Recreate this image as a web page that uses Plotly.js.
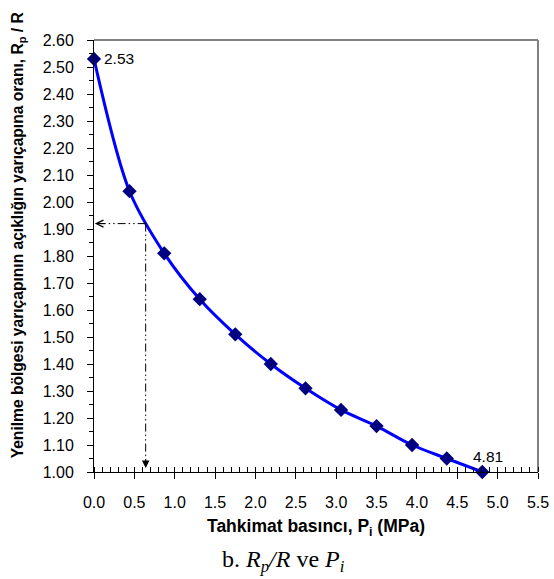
<!DOCTYPE html>
<html>
<head>
<meta charset="utf-8">
<script src="https://cdn.plot.ly/plotly-3.0.1.min.js"></script>
<style>html,body{margin:0;padding:0;background:#fff;}#chart{width:554px;height:579px;}</style>
</head>
<body>
<div id="chart"></div>
<script>
// Support pressure Pi (MPa)
const pressure = [0.00, 0.44, 0.87, 1.31, 1.75, 2.19, 2.62, 3.06, 3.50, 3.94, 4.37, 4.81];
// Rp / R ratio
const ratio = [2.53, 2.04, 1.81, 1.64, 1.51, 1.40, 1.31, 1.23, 1.17, 1.10, 1.05, 1.00];
// Labelled points
const firstLabel = "2.53";
const lastLabel = "4.81";
// Guide (read-off) point
const guideX = [0.64];
const guideY = [1.92];
const yMin = 1.00, yMax = 2.60, xMin = 0.0, xMax = 5.5;

const FONT = "Liberation Sans, Arial, sans-serif";
const dashPat = "8px,3px,1.5px,3px,1.5px,3px";

const traces = [
  {
    x: pressure, y: ratio, type: "scatter", mode: "lines",
    line: {color: "#0000FF", width: 3, shape: "spline", smoothing: 0.9},
    hoverinfo: "skip", showlegend: false
  },
  {
    x: [guideX[0], xMin + 0.03], y: [guideY[0], guideY[0]], type: "scatter", mode: "lines",
    line: {color: "#000000", width: 1, dash: dashPat}, showlegend: false
  },
  {
    x: [guideX[0], guideX[0]], y: [guideY[0], yMin + 0.02], type: "scatter", mode: "lines",
    line: {color: "#000000", width: 1, dash: dashPat}, showlegend: false
  },
  {
    x: pressure, y: ratio, type: "scatter", mode: "markers",
    marker: {symbol: "diamond", size: 11, color: "#000080", line: {width: 0}},
    showlegend: false, cliponaxis: false
  }
];

const layout = {
  width: 554, height: 579,
  margin: {l: 94, r: 16, t: 40, b: 107},
  paper_bgcolor: "#fff", plot_bgcolor: "#fff",
  font: {family: FONT, color: "#000"},
  xaxis: {
    range: [xMin, xMax], dtick: 0.5, tick0: 0, tickformat: ".1f",
    showgrid: false, zeroline: false,
    showline: true, linecolor: "#000", linewidth: 1,
    ticks: "outside", ticklen: 6, tickcolor: "#000", tickwidth: 1,
    ticklabelstandoff: 10,
    tickfont: {family: FONT, size: 16},
    minor: {dtick: 0.1, tick0: 0, ticks: "inside", ticklen: 5, tickcolor: "#000", showgrid: false}
  },
  yaxis: {
    range: [yMin, yMax], dtick: 0.1, tick0: 1, tickformat: ".2f",
    showgrid: false, zeroline: false,
    showline: true, linecolor: "#000", linewidth: 1,
    ticks: "outside", ticklen: 6, tickcolor: "#000", tickwidth: 1,
    ticklabelstandoff: 10,
    tickfont: {family: FONT, size: 16},
    minor: {dtick: 0.05, ticks: "outside", ticklen: 4, tickcolor: "#000", showgrid: false}
  },
  shapes: [
    {type: "line", xref: "paper", yref: "paper", x0: 0, x1: 1, y0: 1, y1: 1, line: {color: "#808080", width: 2}, layer: "below"},
    {type: "line", xref: "paper", yref: "paper", x0: 1, x1: 1, y0: 0, y1: 1, line: {color: "#808080", width: 2}, layer: "below"}
  ],
  annotations: [
    {x: xMin + 0.01, y: guideY[0], ax: 12, ay: 0, xref: "x", yref: "y", showarrow: true,
     arrowhead: 5, arrowsize: 1.4, arrowwidth: 1, arrowcolor: "#000", text: ""},
    {x: guideX[0], y: yMin + 0.015, ax: 0, ay: -10, xref: "x", yref: "y", showarrow: true,
     arrowhead: 2, arrowsize: 1.5, arrowwidth: 1, arrowcolor: "#000", text: ""},
    {x: pressure[0], y: ratio[0], xref: "x", yref: "y", showarrow: false, text: firstLabel,
     xanchor: "left", yanchor: "middle", xshift: 8, font: {family: FONT, size: 15.5, color: "#000"}},
    {x: pressure[pressure.length - 1], y: ratio[ratio.length - 1], xref: "x", yref: "y", showarrow: false, text: lastLabel,
     xanchor: "center", yanchor: "middle", xshift: 6, yshift: 16, font: {family: FONT, size: 15.5, color: "#000"}},
    {xref: "paper", yref: "paper", x: 0.5, y: -0.128, xanchor: "center", yanchor: "middle", showarrow: false,
     text: "<b>Tahkimat basıncı, P<sub>i</sub> (MPa)</b>", font: {family: FONT, size: 17.5, color: "#000"}},
    {xref: "paper", yref: "paper", x: -0.171, y: 0.548, xanchor: "center", yanchor: "middle", showarrow: false, textangle: -90,
     text: "<b>Yenilme bölgesi yarıçapının açıklığın yarıçapına oranı, R<sub>p</sub> / R</b>", font: {family: FONT, size: 15.6, color: "#000"}},
    {xref: "paper", yref: "paper", x: 0.426, y: -0.205, xanchor: "center", yanchor: "middle", showarrow: false,
     text: "b. <i>R<sub>p</sub>/R</i> ve <i>P<sub>i</sub></i>",
     font: {family: "Liberation Serif, Times New Roman, serif", size: 24, color: "#000"}}
  ]
};

Plotly.newPlot("chart", traces, layout, {displayModeBar: false, staticPlot: true});
</script>
</body>
</html>
